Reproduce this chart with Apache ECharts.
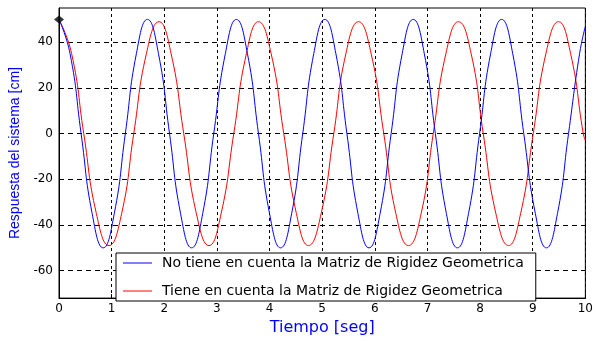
<!DOCTYPE html>
<html>
<head>
<meta charset="utf-8">
<script src="https://cdn.jsdelivr.net/npm/echarts@6/dist/echarts.min.js"></script>
<style>
  html, body { margin: 0; padding: 0; background: #fff; }
  #main { width: 596px; height: 341px; }
</style>
</head>
<body>
<div id="main"></div>
<script>
// tiempos y respuestas
var blueT = [0, 0.21, 0.42, 0.63, 0.84, 1.05, 1.26, 1.47, 1.68, 1.89, 2.10, 2.31, 2.52, 2.73, 2.94, 3.16,
    3.37, 3.58, 3.79, 4.00, 4.21, 4.42, 4.63, 4.84, 5.05, 5.26, 5.47, 5.68, 5.89, 6.10, 6.31, 6.52,
    6.73, 6.94, 7.15, 7.36, 7.57, 7.78, 7.99, 8.20, 8.41, 8.62, 8.83, 9.05, 9.26, 9.47, 9.68, 9.89, 10];
var blueY = [50, 35, 0, -35, -50, -35, 0, 35, 50, 35, 0, -35, -50, -35, 0, 35,
    50, 35, 0, -35, -50, -35, 0, 35, 50, 35, 0, -35, -50, -35, 0, 35,
    50, 35, 0, -35, -50, -35, 0, 35, 50, 35, 0, -35, -50, -35, 0, 35, 47];
var redT = [0, 0.24, 0.47, 0.71, 0.95, 1.19, 1.42, 1.66, 1.90, 2.13, 2.37, 2.61, 2.85, 3.08, 3.32, 3.56,
    3.79, 4.03, 4.27, 4.51, 4.74, 4.98, 5.22, 5.45, 5.69, 5.93, 6.17, 6.40, 6.64, 6.88, 7.11, 7.35,
    7.59, 7.83, 8.06, 8.30, 8.54, 8.77, 9.01, 9.25, 9.49, 9.72, 9.96, 10];
var redY = [50, 35, 0, -35, -49, -35, 0, 35, 49, 35, 0, -35, -49, -35, 0, 35,
    49, 35, 0, -35, -49, -35, 0, 35, 49, 35, 0, -35, -49, -35, 0, 35,
    49, 35, 0, -35, -49, -35, 0, 35, 49, 35, 0, -3];
var yTicks = [-60, -40, -20, 0, 20, 40];
var startPoint = [[0, 50]];

var names = ['No tiene en cuenta la Matriz de Rigidez Geometrica',
    'Tiene en cuenta la Matriz de Rigidez Geometrica'];

function pairs(t, y) {
    var out = [];
    for (var i = 0; i < t.length; i++) out.push([t[i], y[i]]);
    return out;
}

var mychart = echarts.init(document.getElementById('main'));

var option = {
    backgroundColor: '#fff',
    animation: false,
    grid: {
        left: 58, right: 8, top: 8, bottom: 38,
        show: true, borderColor: '#000', borderWidth: 1, backgroundColor: '#fff'
    },
    legend: {
        data: names,
        orient: 'vertical',
        left: 116,
        top: 253,
        padding: [3, 12, 3, 7],
        itemGap: 14,
        itemWidth: 29,
        itemHeight: 14,
        icon: 'path://M0,0 L29,0 L29,1 L0,1 Z',
        backgroundColor: '#fff',
        borderColor: '#000',
        borderWidth: 1,
        borderRadius: 0,
        textStyle: {
            fontFamily: 'DejaVu Sans',
            fontSize: 14,
            color: '#000',
            padding: [0, 0, 0, 5]
        }
    },
    xAxis: {
        type: 'value',
        min: 0,
        max: 10,
        interval: 1,
        name: 'Tiempo [seg]',
        nameLocation: 'middle',
        nameGap: 18,
        nameTextStyle: { color: '#0000ff', fontFamily: 'DejaVu Sans', fontSize: 16 },
        axisLine: { onZero: false, lineStyle: { color: '#000' } },
        axisTick: { inside: true, length: 4, lineStyle: { color: '#000' } },
        axisLabel: { color: '#000', fontFamily: 'DejaVu Sans', fontSize: 12, margin: 5 },
        splitLine: { show: true, lineStyle: { color: '#000', type: [3, 3], width: 1 } }
    },
    yAxis: {
        type: 'value',
        min: -72,
        max: 55,
        name: 'Respuesta del sistema [cm]',
        nameLocation: 'middle',
        nameGap: 37,
        nameTextStyle: { color: '#0000ff', fontFamily: 'Liberation Sans', fontSize: 14 },
        axisLine: { show: true, onZero: false, lineStyle: { color: '#000' } },
        axisTick: { show: true, inside: true, length: 4, customValues: yTicks, lineStyle: { color: '#000' } },
        axisLabel: { color: '#000', fontFamily: 'DejaVu Sans', fontSize: 12, margin: 6, customValues: yTicks },
        splitLine: { show: true, lineStyle: { color: '#000', type: [5, 4], width: 1 } }
    },
    series: [
        {
            name: names[0],
            type: 'line',
            data: pairs(blueT, blueY),
            smooth: 0.5,
            symbol: 'none',
            lineStyle: { color: '#0000ff', width: 1 },
            itemStyle: { color: '#0000ff' },
            z: 3
        },
        {
            name: names[1],
            type: 'line',
            data: pairs(redT, redY),
            smooth: 0.5,
            symbol: 'none',
            lineStyle: { color: '#ff0000', width: 1 },
            itemStyle: { color: '#ff0000' },
            z: 2
        },
        {
            type: 'scatter',
            data: startPoint,
            symbol: 'diamond',
            symbolSize: [10, 8],
            itemStyle: { color: '#000' },
            z: 5
        }
    ]
};
mychart.setOption(option);
</script>
</body>
</html>
